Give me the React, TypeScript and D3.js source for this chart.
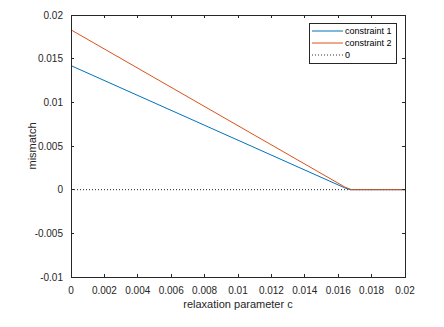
import React from 'react';
import * as d3 from 'd3';

const cValues1 = [0, 0.0164, 0.0167, 0.018, 0.02];
const mismatch1 = [0.0142, 0.0002, 0, 0, 0];
const cValues2 = [0, 0.0164, 0.0168, 0.018, 0.02];
const mismatch2 = [0.0183, 0.0003, 0, 0, 0];
const xTicks = [0, 0.002, 0.004, 0.006, 0.008, 0.01, 0.012, 0.014, 0.016, 0.018, 0.02];
const yTicks = [-0.01, -0.005, 0, 0.005, 0.01, 0.015, 0.02];
const legendLabels = ['constraint 1', 'constraint 2', '0'];

const W = 444;
const H = 327;
const m = { left: 71, top: 15, right: 39, bottom: 50 };
const axisColor = '#262626';
const font = 'Liberation Sans, Arial, sans-serif';

// matlab style: ascii hyphen, no trailing zeros
const fmt = (v: number) => d3.format('~g')(v).replace('\u2212', '-');

export default function App() {
  const x = d3.scaleLinear().domain([0, 0.02]).range([m.left, W - m.right]);
  const y = d3.scaleLinear().domain([-0.01, 0.02]).range([H - m.bottom, m.top]);
  const line = d3.line<[number, number]>().x(d => x(d[0])).y(d => y(d[1]));
  const s1 = cValues1.map((c, i) => [c, mismatch1[i]] as [number, number]);
  const s2 = cValues2.map((c, i) => [c, mismatch2[i]] as [number, number]);
  const zero: [number, number][] = [[0, 0], [0.02, 0]];
  const x0 = m.left, x1 = W - m.right, y0 = m.top, y1 = H - m.bottom;
  const tl = 3;
  const lg = { x: 309, y: 23, w: 87, h: 40 };
  const styles = [
    { stroke: '#0072BD', dash: undefined },
    { stroke: '#D95319', dash: undefined },
    { stroke: '#333', dash: '1,2' },
  ];

  return (
    <svg width={W} height={H} style={{ position: 'absolute', left: 0, top: 0, background: '#fff' }}>
      <rect x={0} y={0} width={W} height={H} fill="#fff" />
      <path d={line(zero) ?? ''} fill="none" stroke="#222" strokeWidth={1} strokeDasharray="1,2" />
      <path d={line(s1) ?? ''} fill="none" stroke="#0072BD" strokeWidth={1} />
      <path d={line(s2) ?? ''} fill="none" stroke="#D95319" strokeWidth={1} />
      <rect x={x0} y={y0} width={x1 - x0} height={y1 - y0} fill="none" stroke={axisColor} strokeWidth={1} shapeRendering="crispEdges" />
      {xTicks.map(t => (
        <g key={'x' + t}>
          <line x1={x(t)} x2={x(t)} y1={y1} y2={y1 - tl} stroke={axisColor} shapeRendering="crispEdges" />
          <line x1={x(t)} x2={x(t)} y1={y0} y2={y0 + tl} stroke={axisColor} shapeRendering="crispEdges" />
          <text x={x(t)} y={y1 + 17} textAnchor="middle" fontSize={10} fontFamily={font} fill={axisColor}>{fmt(t)}</text>
        </g>
      ))}
      {yTicks.map(t => (
        <g key={'y' + t}>
          <line x1={x0} x2={x0 + tl} y1={y(t)} y2={y(t)} stroke={axisColor} shapeRendering="crispEdges" />
          <line x1={x1} x2={x1 - tl} y1={y(t)} y2={y(t)} stroke={axisColor} shapeRendering="crispEdges" />
          <text x={x0 - 8} y={y(t) + 3.5} textAnchor="end" fontSize={10} fontFamily={font} fill={axisColor}>{fmt(t)}</text>
        </g>
      ))}
      <text x={(x0 + x1) / 2} y={H - 19} textAnchor="middle" fontSize={11} fontFamily={font} fill={axisColor}>relaxation parameter c</text>
      <text transform={`translate(36,${(y0 + y1) / 2}) rotate(-90)`} textAnchor="middle" fontSize={11} fontFamily={font} fill={axisColor}>mismatch</text>
      <rect x={lg.x} y={lg.y} width={lg.w} height={lg.h} fill="#fff" stroke={axisColor} strokeWidth={1} shapeRendering="crispEdges" />
      {legendLabels.map((lab, i) => {
        const yy = lg.y + 8 + i * 12;
        return (
          <g key={lab}>
            <line x1={lg.x + 3} x2={lg.x + 34} y1={yy} y2={yy} stroke={styles[i].stroke} strokeDasharray={styles[i].dash} />
            <text x={lg.x + 36} y={yy + 3} fontSize={9} fontFamily={font} fill="#000">{lab}</text>
          </g>
        );
      })}
    </svg>
  );
}
